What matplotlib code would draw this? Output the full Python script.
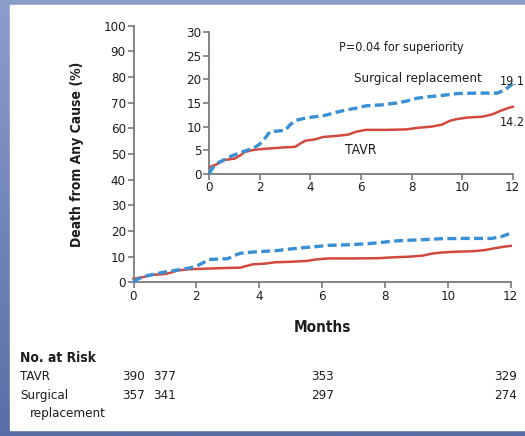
import numpy as np
import matplotlib
matplotlib.use("Agg")
from matplotlib import pyplot as plt
from matplotlib.patches import Rectangle

plt.rcParams['font.family'] = ['DejaVu Sans']
plt.rcParams['font.stretch'] = 'condensed'

# Kaplan-Meier estimates (months, % dead)
tavr_months = [0, 0.3, 0.6, 1.0, 1.2, 1.4, 1.7, 2.0, 2.5, 3.0, 3.4, 3.6, 3.8, 4.2, 4.5, 5.0,
               5.5, 5.8, 6.2, 7.0, 7.8, 8.2, 8.8, 9.2, 9.5, 9.8, 10.2, 10.8, 11.2, 11.5, 11.8, 12.0]
tavr_death = [1.4, 2.0, 2.9, 3.2, 3.8, 4.6, 5.0, 5.2, 5.4, 5.6, 5.7, 6.4, 7.0, 7.3, 7.8, 8.0,
              8.3, 8.9, 9.3, 9.3, 9.4, 9.7, 10.0, 10.4, 11.2, 11.6, 11.9, 12.1, 12.6, 13.3, 13.9, 14.2]
surg_months = [0, 0.1, 0.3, 0.6, 0.9, 1.2, 1.5, 1.8, 2.0, 2.2, 2.4, 3.0, 3.2, 3.4, 3.8, 4.2,
               4.6, 5.0, 5.4, 5.8, 6.2, 6.8, 7.4, 7.8, 8.2, 8.6, 9.2, 9.8, 10.5, 11.4, 11.7, 12.0]
surg_death = [0, 1.0, 2.2, 3.0, 3.8, 4.4, 5.0, 5.6, 6.3, 7.5, 8.9, 9.2, 10.4, 11.3, 11.8, 12.1,
              12.4, 13.0, 13.5, 13.9, 14.4, 14.6, 15.0, 15.4, 16.0, 16.3, 16.6, 17.0, 17.1, 17.1, 17.8, 19.1]

risk_months = [0, 1, 6, 12]
risk_tavr = [390, 377, 353, 329]
risk_surg = [357, 341, 297, 274]

RED = '#d24a3f'
BLUE = '#3b8fd4'
TXT = '#1e1e1e'
SPINE = '#7a7a7a'
FS = 9.5

W, H = 525, 436
fig = plt.figure(figsize=(W / 100, H / 100), dpi=100)

# blue backdrop with white panel
bg = fig.add_axes([0, 0, 1, 1], zorder=-10)
grad = np.linspace(0, 1, 256)[:, None]
top = np.array([0x8c, 0x9e, 0xcb]) / 255
bot = np.array([0x5a, 0x6e, 0xa6]) / 255
img = top[None, None, :] * (1 - grad[:, :, None]) + bot[None, None, :] * grad[:, :, None]
bg.imshow(img, aspect='auto', extent=[0, 1, 0, 1])
bg.add_patch(Rectangle((10 / W, 1 - 430 / H), 1, (430 - 5) / H, color='white'))
bg.set_xlim(0, 1)
bg.set_ylim(0, 1)
bg.axis('off')


def style_axes(ax):
    for s in ['top', 'right']:
        ax.spines[s].set_visible(False)
    for s in ['left', 'bottom']:
        ax.spines[s].set_color(SPINE)
        ax.spines[s].set_linewidth(1.3)
    ax.tick_params(direction='out', length=4, width=1.2, color=SPINE,
                   labelsize=FS, labelcolor=TXT, pad=1.5)
    ax.set_xlim(0, 12)
    ax.set_xticks(range(0, 13, 2))
    ax.set_facecolor('none')


def draw_curves(ax):
    ax.plot(surg_months, surg_death, color=BLUE, lw=2.4, ls=(0, (2.7, 1.3)), clip_on=False, zorder=3)
    ax.plot(tavr_months, tavr_death, color=RED, lw=1.8, clip_on=False, zorder=2)


# main plot
ax = fig.add_axes([133.5 / W, 1 - 282.3 / H, (510.7 - 133.5) / W, (282.3 - 25.7) / H])
style_axes(ax)
ax.set_ylim(0, 100)
ax.set_yticks(range(0, 101, 10))
draw_curves(ax)
ax.set_xlabel('Months', fontsize=11, fontweight='bold', color=TXT, labelpad=12)
ax.set_ylabel('Death from Any Cause (%)', fontsize=10, fontweight='bold', color=TXT, labelpad=14)

# inset
ins = fig.add_axes([209.3 / W, 1 - 173.7 / H, (512.7 - 209.3) / W, (173.7 - 32.3) / H])
style_axes(ins)
ins.set_ylim(0, 30)
ins.set_yticks(range(0, 31, 5))
draw_curves(ins)
ins.text(7.6, 26.8, 'P=0.04 for superiority', fontsize=9, color=TXT, ha='center', va='center')
ins.text(8.24, 20.1, 'Surgical replacement', fontsize=9.5, color=TXT, ha='center', va='center')
ins.text(6.0, 5.0, 'TAVR', fontsize=10, color=TXT, ha='center', va='center')
ins.text(11.5, 19.6, '%.1f' % surg_death[-1], fontsize=9, color=TXT, ha='left', va='center')
ins.text(11.5, 10.8, '%.1f' % tavr_death[-1], fontsize=9, color=TXT, ha='left', va='center')

# number at risk table
fig.text(20 / W, 1 - 358 / H, 'No. at Risk', fontsize=10, fontweight='bold', color=TXT, va='center')
fig.text(20 / W, 1 - 376.7 / H, 'TAVR', fontsize=FS, color=TXT, va='center')
fig.text(20 / W, 1 - 395.7 / H, 'Surgical', fontsize=FS, color=TXT, va='center')
fig.text(30 / W, 1 - 413 / H, 'replacement', fontsize=FS, color=TXT, va='center')
for m, a, b in zip(risk_months, risk_tavr, risk_surg):
    xpix = ax.transData.transform((m if m < 12 else 11.85, 0))[0]
    fig.text(xpix / W, 1 - 376.7 / H, str(a), fontsize=FS, color=TXT, ha='center', va='center')
    fig.text(xpix / W, 1 - 395.7 / H, str(b), fontsize=FS, color=TXT, ha='center', va='center')

fig.savefig('out.png', dpi=100)
